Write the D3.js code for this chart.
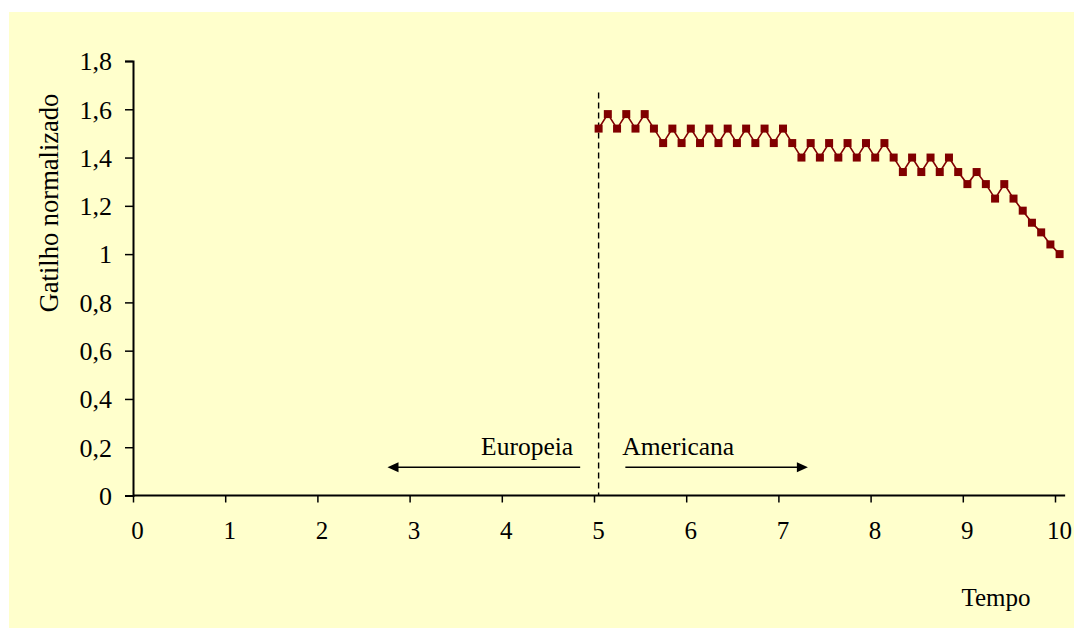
<!DOCTYPE html>
<html>
<head>
<meta charset="utf-8">
<script src="https://cdn.jsdelivr.net/npm/d3@7"></script>
<style>
  html, body { margin: 0; padding: 0; background: #ffffff; }
  svg { display: block; }
  text { font-family: "Liberation Serif", "Times New Roman", serif; fill: #000; }
</style>
</head>
<body>
<svg id="chart" width="1074" height="628"></svg>
<script>
// Normalized trigger over time (American region only)
const tempo = [
  5.05, 5.15, 5.25, 5.35, 5.45, 5.55, 5.65, 5.75, 5.85, 5.95,
  6.05, 6.15, 6.25, 6.35, 6.45, 6.55, 6.65, 6.75, 6.85, 6.95,
  7.05, 7.15, 7.25, 7.35, 7.45, 7.55, 7.65, 7.75, 7.85, 7.95,
  8.05, 8.15, 8.25, 8.35, 8.45, 8.55, 8.65, 8.75, 8.85, 8.95,
  9.05, 9.15, 9.25, 9.35, 9.45, 9.55, 9.65, 9.75, 9.85, 9.95,
  10.05
];
const gatilho = [
  1.52, 1.58, 1.52, 1.58, 1.52, 1.58, 1.52, 1.46, 1.52, 1.46,
  1.52, 1.46, 1.52, 1.46, 1.52, 1.46, 1.52, 1.46, 1.52, 1.46,
  1.52, 1.46, 1.40, 1.46, 1.40, 1.46, 1.40, 1.46, 1.40, 1.46,
  1.40, 1.46, 1.40, 1.34, 1.40, 1.34, 1.40, 1.34, 1.40, 1.34,
  1.29, 1.34, 1.29, 1.23, 1.29, 1.23, 1.18, 1.13, 1.09, 1.04,
  1.00
];

const xTicks = [0, 1, 2, 3, 4, 5, 6, 7, 8, 9, 10];
const yTicks = [0, 0.2, 0.4, 0.6, 0.8, 1.0, 1.2, 1.4, 1.6, 1.8];

// Exercise boundary and region annotations
const fronteira = { t: 5.05, top: 1.67 };
const regioes = [
  { nome: "Europeia",  from: 4.85, to: 2.76, y: 0.117 },
  { nome: "Americana", from: 5.34, to: 7.32, y: 0.117 }
];

const xLabel = "Tempo";
const yLabel = "Gatilho normalizado";
const xAxisEnd = 10.11;

const serieColor = "#800000";
const bgColor = "#ffffcc";

const svg = d3.select("#chart");

// chart area background
svg.append("rect")
  .attr("x", 9).attr("y", 12)
  .attr("width", 1065).attr("height", 616)
  .attr("fill", bgColor);

const x = d3.scaleLinear().domain([0, 10]).range([133, 1055]);
const y = d3.scaleLinear().domain([0, 1.8]).range([495.5, 61]);

const fmt = d => String(+d.toFixed(1)).replace(".", ",");
const serif = "Liberation Serif, Times New Roman, serif";

// y axis
const yAxis = svg.append("g")
  .attr("transform", `translate(${x(0)},0)`)
  .call(d3.axisLeft(y).tickValues(yTicks).tickSize(8).tickPadding(13).tickFormat(fmt));
yAxis.select(".domain").attr("stroke", "#000").attr("stroke-width", 2);
yAxis.selectAll(".tick line").attr("stroke", "#000").attr("stroke-width", 1.5);
yAxis.selectAll(".tick text")
  .attr("font-size", 26)
  .attr("font-family", serif)
  .attr("dy", "0.34em");

// x axis
const xAxis = svg.append("g")
  .attr("transform", `translate(0,${y(0)})`)
  .call(d3.axisBottom(x).tickValues(xTicks).tickSize(7).tickPadding(19).tickFormat(d3.format("d")));
xAxis.select(".domain").remove();
xAxis.append("line")
  .attr("x1", x(0)).attr("x2", x(xAxisEnd))
  .attr("y1", 0).attr("y2", 0)
  .attr("stroke", "#000").attr("stroke-width", 2);
xAxis.selectAll(".tick line").attr("stroke", "#000").attr("stroke-width", 1.5);
xAxis.selectAll(".tick text")
  .attr("font-size", 25)
  .attr("font-family", serif)
  .attr("dx", 4);

// axis titles
svg.append("text")
  .attr("x", 996).attr("y", 606)
  .attr("text-anchor", "middle")
  .attr("font-size", 25)
  .text(xLabel);

svg.append("text")
  .attr("transform", `translate(58,${203}) rotate(-90)`)
  .attr("text-anchor", "middle")
  .attr("font-size", 26.5)
  .text(yLabel);

// dashed exercise boundary
svg.append("line")
  .attr("x1", x(fronteira.t)).attr("x2", x(fronteira.t))
  .attr("y1", y(fronteira.top)).attr("y2", y(0))
  .attr("stroke", "#000").attr("stroke-width", 1.4)
  .attr("stroke-dasharray", "6,4");

// region arrows
const headLen = 11, headHalf = 5;
regioes.forEach(r => {
  const x1 = x(r.from), x2 = x(r.to), yy = y(r.y);
  const dir = Math.sign(x2 - x1);
  svg.append("line")
    .attr("x1", x1).attr("x2", x2 - dir * headLen * 0.6)
    .attr("y1", yy).attr("y2", yy)
    .attr("stroke", "#000").attr("stroke-width", 1.6);
  svg.append("path")
    .attr("d", `M${x2},${yy} L${x2 - dir * headLen},${yy - headHalf} L${x2 - dir * headLen},${yy + headHalf} Z`)
    .attr("fill", "#000");
});

// region labels
svg.append("text")
  .attr("x", x(regioes[0].from) - 7).attr("y", 455)
  .attr("text-anchor", "end")
  .attr("font-size", 25.5)
  .text(regioes[0].nome);
svg.append("text")
  .attr("x", x(regioes[1].from) - 3).attr("y", 455)
  .attr("text-anchor", "start")
  .attr("font-size", 25.5)
  .text(regioes[1].nome);

// series line and markers
const pts = tempo.map((t, i) => [t, gatilho[i]]);
svg.append("path")
  .datum(pts)
  .attr("fill", "none")
  .attr("stroke", serieColor)
  .attr("stroke-width", 1.6)
  .attr("d", d3.line().x(d => x(d[0])).y(d => y(d[1])));

const ms = 8;
svg.selectAll("rect.marker")
  .data(pts)
  .join("rect")
  .attr("class", "marker")
  .attr("x", d => x(d[0]) - ms / 2)
  .attr("y", d => y(d[1]) - ms / 2)
  .attr("width", ms).attr("height", ms)
  .attr("fill", serieColor);
</script>
</body>
</html>
